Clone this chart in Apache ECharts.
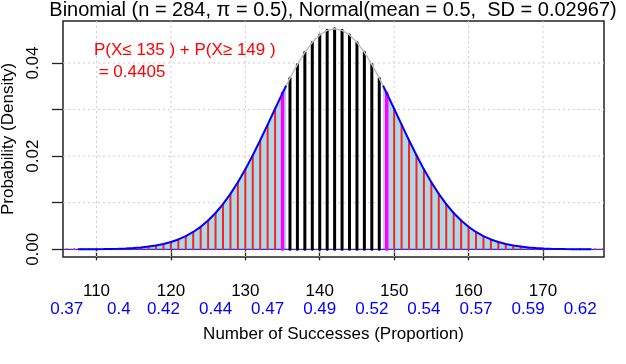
<!DOCTYPE html>
<html>
<head>
<meta charset="utf-8">
<script src="https://cdn.jsdelivr.net/npm/echarts@6/dist/echarts.min.js"></script>
<style>
html,body{margin:0;padding:0;background:#fff;}
#chart{width:626px;height:364px;}
</style>
</head>
<body>
<div id="chart"></div>
<script>
// ---- data ----
const successes = [106,107,108,109,110,111,112,113,114,115,116,117,118,119,120,121,122,123,124,125,126,127,128,129,130,131,132,133,134,135,136,137,138,139,140,141,142,143,144,145,146,147,148,149,150,151,152,153,154,155,156,157,158,159,160,161,162,163,164,165,166,167,168,169,170,171,172,173,174,175,176,177,178];
const binomProb = [0.00001,0.00001,0.00001,0.00002,0.00003,0.00005,0.00008,0.00013,0.00019,0.00028,0.00040,0.00058,0.00082,0.00114,0.00157,0.00212,0.00283,0.00372,0.00483,0.00618,0.00780,0.00971,0.01191,0.01440,0.01717,0.02019,0.02341,0.02676,0.03017,0.03352,0.03674,0.03970,0.04230,0.04443,0.04603,0.04701,0.04734,0.04701,0.04603,0.04443,0.04230,0.03970,0.03674,0.03352,0.03017,0.02676,0.02341,0.02019,0.01717,0.01440,0.01191,0.00971,0.00780,0.00618,0.00483,0.00372,0.00283,0.00212,0.00157,0.00114,0.00082,0.00058,0.00040,0.00028,0.00019,0.00013,0.00008,0.00005,0.00003,0.00002,0.00001,0.00001,0.00001];
const normalDensity = [0.00001,0.00001,0.00001,0.00002,0.00003,0.00005,0.00008,0.00013,0.00019,0.00028,0.00040,0.00058,0.00082,0.00114,0.00157,0.00212,0.00283,0.00372,0.00483,0.00618,0.00780,0.00971,0.01191,0.01440,0.01717,0.02019,0.02341,0.02676,0.03017,0.03352,0.03674,0.03970,0.04230,0.04443,0.04603,0.04701,0.04734,0.04701,0.04603,0.04443,0.04230,0.03970,0.03674,0.03352,0.03017,0.02676,0.02341,0.02019,0.01717,0.01440,0.01191,0.00971,0.00780,0.00618,0.00483,0.00372,0.00283,0.00212,0.00157,0.00114,0.00082,0.00058,0.00040,0.00028,0.00019,0.00013,0.00008,0.00005,0.00003,0.00002,0.00001,0.00001,0.00001];
const cutCounts = [135, 149];
const boundaryX = [135.5, 148.5];
const boundaryDensity = [0.03516, 0.03516];
const curveEndX = [107.5, 176.5];
const curveEndDensity = [0.00001, 0.00001];
const xTicks = [110,120,130,140,150,160,170];
const yTicks = [0,0.01,0.02,0.03,0.04];
const yTickLabels = [0,0.02,0.04];
const propPositions = [106,113,119,126,133,140,147,154,161,168,175];
const propLabels = ['0.37','0.4','0.42','0.44','0.47','0.49','0.52','0.54','0.57','0.59','0.62'];
const titleText = 'Binomial (n = 284, \u03c0 = 0.5), Normal(mean = 0.5,  SD = 0.02967)';
const noteLine1 = 'P(X\u2264 135 ) + P(X\u2265 149 )';
const noteLine2 = ' = 0.4405';

// ---- build series data ----
const bars = successes.map((x, i) => [x, binomProb[i]]);
function curveBetween(lo, hi) {
  const pts = [];
  successes.forEach((x, i) => { if (x > lo && x < hi) pts.push([x, normalDensity[i]]); });
  return pts;
}
const leftCurve = [[curveEndX[0], curveEndDensity[0]]].concat(curveBetween(curveEndX[0], boundaryX[0]), [[boundaryX[0], boundaryDensity[0]]]);
const midCurve = [[boundaryX[0], boundaryDensity[0]]].concat(curveBetween(boundaryX[0], boundaryX[1]), [[boundaryX[1], boundaryDensity[1]]]);
const rightCurve = [[boundaryX[1], boundaryDensity[1]]].concat(curveBetween(boundaryX[1], curveEndX[1]), [[curveEndX[1], curveEndDensity[1]]]);

const FONT = "'Liberation Sans', Arial, sans-serif";
const chart = echarts.init(document.getElementById('chart'), null, {renderer: 'canvas'});

const XMIN = 105.5, XMAX = 178.2, YMIN = -0.00165, YMAX = 0.04902;

chart.setOption({
  animation: false,
  backgroundColor: '#ffffff',
  textStyle: {fontFamily: FONT},
  grid: {left: 63, right: 22, top: 21, bottom: 107, show: true, borderColor: '#222', borderWidth: 1.5, backgroundColor: 'transparent', containLabel: false, outerBoundsMode: 'none'},
  xAxis: [{
    type: 'value', min: XMIN, max: XMAX, position: 'bottom',
    axisLine: {show: false},
    splitLine: {show: false},
    axisTick: {show: true, customValues: xTicks, length: 11, inside: false, lineStyle: {color: '#222', width: 1.3}},
    axisLabel: {show: true, customValues: xTicks, margin: 26, color: '#000', fontSize: 17, fontFamily: FONT, formatter: v => String(v)},
    name: 'Number of Successes (Proportion)', nameLocation: 'middle', nameGap: 69,
    nameTextStyle: {fontSize: 17, color: '#000', fontFamily: FONT}
  }, {
    type: 'value', min: XMIN, max: XMAX, position: 'bottom', offset: 0,
    axisLine: {show: false}, splitLine: {show: false}, axisTick: {show: false},
    axisLabel: {show: true, customValues: propPositions, margin: 44, color: '#0000FF', fontSize: 17, fontFamily: FONT,
      formatter: v => { const k = propPositions.indexOf(Math.round(v)); return k >= 0 ? propLabels[k] : ''; }}
  }],
  yAxis: {
    type: 'value', min: YMIN, max: YMAX,
    axisLine: {show: false}, splitLine: {show: false},
    axisTick: {show: true, customValues: yTicks, length: 11, lineStyle: {color: '#222', width: 1.3}},
    axisLabel: {show: true, customValues: yTickLabels, rotate: 90, margin: 21, color: '#000', fontSize: 17, fontFamily: FONT, formatter: v => v.toFixed(2)},
    name: 'Probability (Density)', nameLocation: 'middle', nameGap: 42, nameRotate: 90,
    nameTextStyle: {fontSize: 17, color: '#000', fontFamily: FONT}
  },
  graphic: [
    {type: 'text', x: 333, y: 0, style: {text: titleText, fontSize: 20, fontFamily: FONT, fill: '#000', textAlign: 'center', textVerticalAlign: 'top'}, z: 10},
    {type: 'text', x: 94, y: 50, style: {text: noteLine1, fontSize: 17, fontFamily: FONT, fill: '#FF0000', textAlign: 'left', textVerticalAlign: 'middle'}, z: 10},
    {type: 'text', x: 94, y: 72, style: {text: noteLine2, fontSize: 17, fontFamily: FONT, fill: '#FF0000', textAlign: 'left', textVerticalAlign: 'middle'}, z: 10}
  ],
  series: [
    { // dotted grid lines
      type: 'custom', z: 1, silent: true,
      data: xTicks.map(v => [v, 'x']).concat(yTicks.map(v => [v, 'y'])),
      encode: {x: -1, y: -1},
      renderItem: (params, api) => {
        const cs = params.coordSys;
        const v = api.value(0);
        const isX = params.dataIndex < xTicks.length;
        let shape;
        if (isX) { const p = api.coord([v, 0]); shape = {x1: p[0], y1: cs.y, x2: p[0], y2: cs.y + cs.height}; }
        else { const p = api.coord([XMIN, v]); shape = {x1: cs.x, y1: p[1], x2: cs.x + cs.width, y2: p[1]}; }
        return {type: 'line', shape: shape, style: {stroke: '#cccccc', lineWidth: 1, lineDash: [2, 3]}};
      }
    },
    { // tail fills
      type: 'line', z: 2, data: leftCurve, showSymbol: false, symbol: 'none',
      lineStyle: {width: 0, opacity: 0}, areaStyle: {color: '#ADD8E6', opacity: 1, origin: 0}
    },
    {
      type: 'line', z: 2, data: rightCurve, showSymbol: false, symbol: 'none',
      lineStyle: {width: 0, opacity: 0}, areaStyle: {color: '#ADD8E6', opacity: 1, origin: 0}
    },
    { // baseline
      type: 'custom', z: 3, silent: true, data: [[0]], encode: {x: -1, y: -1},
      renderItem: (params, api) => {
        const cs = params.coordSys; const p = api.coord([XMIN, 0]);
        return {type: 'line', shape: {x1: cs.x, y1: p[1], x2: cs.x + cs.width, y2: p[1]}, style: {stroke: '#0000FF', lineWidth: 1}};
      }
    },
    { // probability bars
      type: 'custom', z: 4, data: bars,
      renderItem: (params, api) => {
        const x = api.value(0), y = api.value(1);
        const p0 = api.coord([x, 0]), p1 = api.coord([x, y]);
        let color = '#FF2020', w = 2;
        if (x === cutCounts[0] || x === cutCounts[1]) { color = '#FF00FF'; w = 3.5; }
        else if (x > cutCounts[0] && x < cutCounts[1]) { color = '#000000'; w = 3; }
        return {type: 'line', shape: {x1: p0[0], y1: p0[1], x2: p1[0], y2: p1[1]}, style: {stroke: color, lineWidth: w, lineCap: 'round'}};
      }
    },
    { type: 'line', z: 5, data: leftCurve, symbol: 'none', lineStyle: {color: '#0000FF', width: 2} },
    { type: 'line', z: 5, data: rightCurve, symbol: 'none', lineStyle: {color: '#0000FF', width: 2} },
    { type: 'line', z: 5, data: midCurve, symbol: 'none', lineStyle: {color: '#BEBEBE', width: 1.5} }
  ]
});
</script>
</body>
</html>
